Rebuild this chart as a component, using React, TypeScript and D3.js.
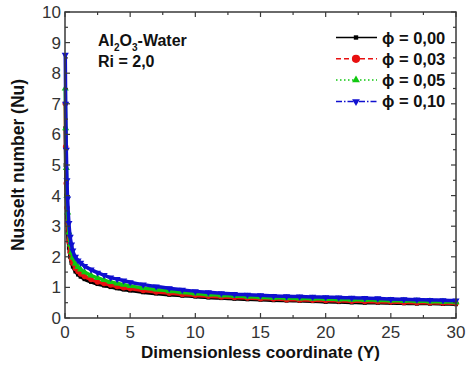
import React from 'react';
import * as d3 from 'd3';

// dimensionless coordinate Y
const ys = [0.02, 0.05, 0.1, 0.15, 0.2, 0.3, 0.4, 0.5, 0.6, 0.8, 1.0, 1.2, 1.5, 2, 2.5, 3, 3.5, 4, 4.5, 5,
  6, 7, 8, 9, 10, 11, 12, 13, 14, 15, 16, 17, 18, 19, 20, 21, 22, 23, 24, 25, 26, 27, 28, 29, 30];

// Nusselt number per volume fraction
const nu000 = [6.2, 5.0, 4.0, 3.3, 2.8, 2.3, 2.0, 1.8, 1.68, 1.52, 1.42, 1.35, 1.27, 1.18, 1.11, 1.06, 1.01, 0.97, 0.93, 0.9,
  0.84, 0.8, 0.76, 0.73, 0.7, 0.67, 0.65, 0.63, 0.61, 0.6, 0.58, 0.57, 0.56, 0.55, 0.53, 0.52, 0.51, 0.5, 0.5, 0.49, 0.48, 0.47, 0.47, 0.46, 0.45];
const nu003 = [7.0, 5.6, 4.4, 3.6, 3.1, 2.5, 2.15, 1.93, 1.79, 1.62, 1.52, 1.44, 1.36, 1.26, 1.18, 1.13, 1.08, 1.03, 0.99, 0.96,
  0.9, 0.85, 0.81, 0.77, 0.74, 0.71, 0.69, 0.67, 0.65, 0.63, 0.62, 0.6, 0.59, 0.58, 0.57, 0.56, 0.55, 0.54, 0.53, 0.52, 0.51, 0.5, 0.5, 0.49, 0.48];
const nu005 = [7.5, 6.2, 4.9, 4.0, 3.45, 2.8, 2.4, 2.15, 1.98, 1.78, 1.67, 1.59, 1.5, 1.39, 1.31, 1.24, 1.18, 1.13, 1.09, 1.05,
  0.98, 0.93, 0.88, 0.84, 0.8, 0.77, 0.74, 0.72, 0.7, 0.68, 0.66, 0.65, 0.64, 0.63, 0.62, 0.61, 0.6, 0.59, 0.58, 0.57, 0.56, 0.55, 0.54, 0.53, 0.52];
const nu010 = [8.6, 7.0, 5.5, 4.5, 3.9, 3.1, 2.65, 2.4, 2.2, 2.0, 1.88, 1.8, 1.7, 1.58, 1.48, 1.4, 1.32, 1.27, 1.22, 1.17,
  1.09, 1.03, 0.97, 0.92, 0.87, 0.84, 0.81, 0.78, 0.76, 0.74, 0.72, 0.71, 0.7, 0.69, 0.68, 0.67, 0.66, 0.65, 0.64, 0.62, 0.61, 0.6, 0.59, 0.58, 0.57];

const labels = ['\u03d5 = 0,00', '\u03d5 = 0,03', '\u03d5 = 0,05', '\u03d5 = 0,10'];
const xTicks = [0, 5, 10, 15, 20, 25, 30];
const yTicks = [0, 1, 2, 3, 4, 5, 6, 7, 8, 9, 10];

const series = [
  { vals: nu000, color: '#000000', dash: 'none', sym: d3.symbolSquare, size: 16 },
  { vals: nu003, color: '#e81010', dash: '5,3', sym: d3.symbolCircle, size: 24 },
  { vals: nu005, color: '#10c810', dash: '1.5,2.5', sym: d3.symbolTriangle, size: 22 },
  { vals: nu010, color: '#1010d0', dash: '6,2,1.5,2', sym: d3.symbolTriangle, size: 22, flip: true },
];

const W = 470, H = 373;
const L = 65, R = 456, T = 12, B = 318;
const axisColor = '#3a3a3a';
const font = 'Liberation Sans, Arial, sans-serif';

export default function App() {
  const x = d3.scaleLinear().domain([0, 30]).range([L, R]);
  const y = d3.scaleLinear().domain([0, 10]).range([B, T]);
  const line = d3.line<number>().x((_, i) => x(ys[i])).y(d => y(d)).curve(d3.curveMonotoneX);
  const xMinor = d3.range(0, 30.01, 2.5);
  const yMinor = d3.range(0, 10.01, 0.5);

  return (
    <svg width={W} height={H} style={{ position: 'absolute', left: 0, top: 0, background: '#fff' }}>
      {/* curves: dense markers form a band */}
      {series.map((s, k) => (
        <g key={k}>
          <path d={line(s.vals) || ''} fill="none" stroke={s.color} strokeWidth={3.5} />
          {s.vals.map((v, i) => (
            <path key={i} d={d3.symbol(s.sym, s.size)() || ''}
              transform={`translate(${x(ys[i])},${y(v)})${s.flip ? ' rotate(180)' : ''}`}
              fill={s.color} />
          ))}
        </g>
      ))}

      {/* frame */}
      <rect x={L} y={T} width={R - L} height={B - T} fill="none" stroke={axisColor} strokeWidth={1.5} />
      {xMinor.map((t, i) => {
        const len = t % 5 === 0 ? 5 : 3;
        return (
          <g key={'xt' + i} stroke={axisColor} strokeWidth={1.2}>
            <line x1={x(t)} x2={x(t)} y1={B} y2={B - len} />
            <line x1={x(t)} x2={x(t)} y1={T} y2={T + len} />
          </g>
        );
      })}
      {yMinor.map((t, i) => {
        const len = Math.abs(t % 1) < 1e-6 ? 5 : 3;
        return (
          <g key={'yt' + i} stroke={axisColor} strokeWidth={1.2}>
            <line x1={L} x2={L + len} y1={y(t)} y2={y(t)} />
            <line x1={R} x2={R - len} y1={y(t)} y2={y(t)} />
          </g>
        );
      })}

      {/* tick labels */}
      {xTicks.map(t => (
        <text key={'xl' + t} x={x(t)} y={338} textAnchor="middle" fontFamily={font} fontSize={17} fill="#333">{t}</text>
      ))}
      {yTicks.map(t => (
        <text key={'yl' + t} x={61} y={y(t) + 6} textAnchor="end" fontFamily={font} fontSize={17} fill="#333">{t}</text>
      ))}

      {/* axis titles */}
      <text x={(L + R) / 2} y={358} textAnchor="middle" fontFamily={font} fontSize={17} fontWeight="bold" fill="#111">
        Dimensionless coordinate (Y)
      </text>
      <text transform={`translate(24,${(T + B) / 2}) rotate(-90)`} textAnchor="middle" fontFamily={font} fontSize={17.5} fontWeight="bold" fill="#111">
        Nusselt number (Nu)
      </text>

      {/* annotation */}
      <text x={98} y={46} fontFamily={font} fontSize={16} fontWeight="bold" fill="#111">
        Al<tspan dy={5} fontSize={10}>2</tspan><tspan dy={-5}>O</tspan><tspan dy={5} fontSize={10}>3</tspan><tspan dy={-5}>-Water</tspan>
      </text>
      <text x={98} y={67} fontFamily={font} fontSize={16} fontWeight="bold" fill="#111">Ri = 2,0</text>

      {/* legend */}
      {series.map((s, k) => {
        const ly = 37.5 + k * 21.3;
        return (
          <g key={'lg' + k}>
            <line x1={336} x2={377} y1={ly} y2={ly} stroke={s.color} strokeWidth={1.5} strokeDasharray={s.dash} />
            <path d={d3.symbol(s.sym, s.size * (k === 1 ? 2.2 : 1.2))() || ''}
              transform={`translate(356,${ly})${s.flip ? ' rotate(180)' : ''}`} fill={s.color} />
            <text x={382} y={ly + 6} fontFamily={font} fontSize={16.5} fontWeight="bold" fill="#111">{labels[k]}</text>
          </g>
        );
      })}
    </svg>
  );
}
